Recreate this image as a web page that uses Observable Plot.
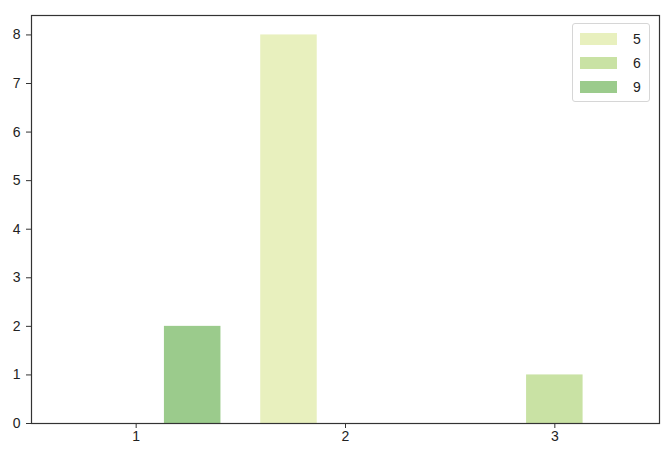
<!DOCTYPE html>
<html>
<head>
<meta charset="utf-8">
<script src="https://cdn.jsdelivr.net/npm/d3@7"></script>
<script src="https://cdn.jsdelivr.net/npm/@observablehq/plot@0.6"></script>
<style>
  html, body { margin: 0; padding: 0; background: #fff; }
  #wrap { position: relative; width: 665px; height: 452px; font-family: "Liberation Sans", sans-serif; }
  #legend { position: absolute; left: 572px; top: 23px; width: 78px; height: 79px; border: 1px solid #d6d6d6; border-radius: 3px; background: rgba(255,255,255,0.8); box-sizing: border-box; }
  .item { position: absolute; left: 7px; height: 12px; display: flex; align-items: center; }
  .sw { width: 37px; height: 12px; }
  .lb { margin-left: 16px; font-size: 14px; color: #222; }
</style>
</head>
<body>
<div id="wrap"><div id="legend"></div></div>
<script>
const categories = [1, 2, 3];
const seriesNames = ["5", "6", "9"];
const values5 = [0, 8, 0];
const values6 = [0, 0, 1];
const values9 = [2, 0, 0];
const colors = ["#e8f0be", "#c9e2a4", "#9bcb8c"];
const yTicks = [0, 1, 2, 3, 4, 5, 6, 7, 8];

const barW = 0.27;
const allValues = [values5, values6, values9];
const rows = [];
seriesNames.forEach((s, i) => {
  categories.forEach((c, j) => {
    const center = c + (i - 1) * barW;
    rows.push({series: s, x1: center - barW / 2, x2: center + barW / 2, value: allValues[i][j]});
  });
});

const chart = Plot.plot({
  width: 665,
  height: 452,
  marginLeft: 31,
  marginRight: 6,
  marginTop: 15,
  marginBottom: 29,
  style: {fontFamily: "'Liberation Sans', sans-serif", fontSize: "14px", color: "#222", background: "#fff"},
  x: {domain: [0.5, 3.5], ticks: categories, tickFormat: d => String(d), label: null},
  y: {domain: [0, 8.4], ticks: yTicks, label: null},
  color: {domain: seriesNames, range: colors},
  marks: [
    Plot.rectY(rows, {x1: "x1", x2: "x2", y: "value", fill: "series"}),
    Plot.axisX({ticks: categories, tickSize: 5, tickPadding: 3, fontSize: 14, fill: "#222", tickFormat: d => String(d), label: null, stroke: "#333"}),
    Plot.axisY({ticks: yTicks, tickSize: 5, tickPadding: 6, fontSize: 14, fill: "#222", label: null, stroke: "#333"}),
    Plot.frame({stroke: "#333", strokeWidth: 1.2})
  ]
});
document.getElementById("wrap").prepend(chart);

const legend = document.getElementById("legend");
seriesNames.forEach((s, i) => {
  const it = document.createElement("div");
  it.className = "item";
  it.style.top = (9 + i * 24) + "px";
  it.innerHTML = `<div class="sw" style="background:${colors[i]}"></div><span class="lb">${s}</span>`;
  legend.appendChild(it);
});
</script>
</body>
</html>
